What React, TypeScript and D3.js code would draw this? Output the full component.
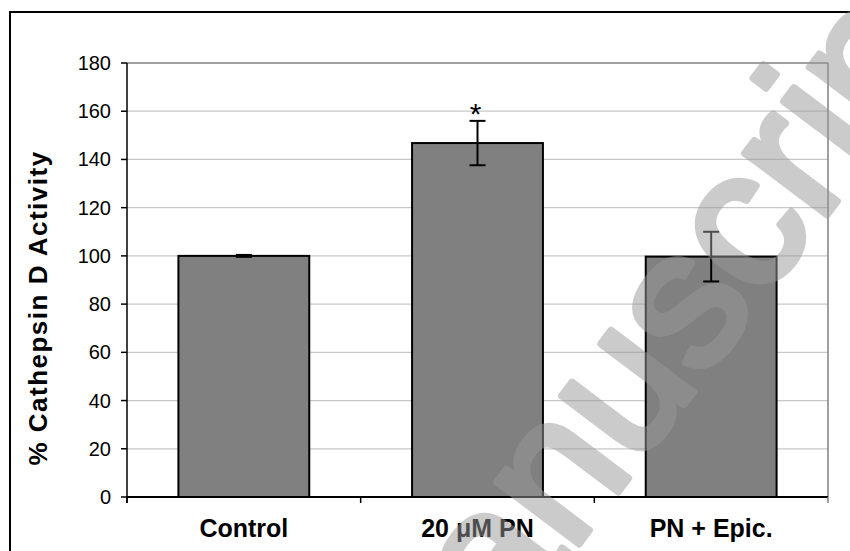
import * as d3 from 'd3';

// values (% of control)
const categories = ['Control', '20 μM PN', 'PN + Epic.'];
const activity = [100, 146.8, 99.7];
const sem = [0.4, 9.2, 10.3];
const marks = ['', '*', ''];
const yTicks = [0, 20, 40, 60, 80, 100, 120, 140, 160, 180];

const W = 850;
const H = 551;
const margin = { top: 63, right: 22, bottom: 54, left: 127 };
const font = "Arial, 'Liberation Sans', sans-serif";

export default function App() {
	const x = d3
		.scaleBand<string>()
		.domain(categories)
		.range([margin.left, W - margin.right])
		.paddingInner(0.44)
		.paddingOuter(0.22);

	const y = d3
		.scaleLinear()
		.domain([0, 180])
		.range([H - margin.bottom, margin.top]);

	const x0 = margin.left;
	const x1 = W - margin.right;
	const y0 = y(0);
	const capW = 8;

	// category boundaries for the x ticks
	const xTicks = d3.range(categories.length + 1).map((i) => x0 + (i * (x1 - x0)) / categories.length);

	return (
		<svg
			width={W}
			height={H}
			style={{ position: 'absolute', left: 0, top: 0, background: '#fff' }}
			fontFamily={font}
		>
			{/* outer frame */}
			<rect x={10} y={12} width={W + 20} height={H + 20} fill="none" stroke="#000" strokeWidth={2} />

			{/* grid */}
			{yTicks.slice(1, -1).map((t) => (
				<line key={t} x1={x0} x2={x1} y1={y(t)} y2={y(t)} stroke="#c8c8c8" strokeWidth={1.2} />
			))}
			{/* plot border top/right */}
			<line x1={x0} x2={x1} y1={y(180)} y2={y(180)} stroke="#808080" strokeWidth={1.5} />
			<line x1={x1} x2={x1} y1={y(180)} y2={y0} stroke="#808080" strokeWidth={1.5} />

			{/* bars */}
			{categories.map((c, i) => (
				<rect
					key={c}
					x={x(c)}
					y={y(activity[i])}
					width={x.bandwidth()}
					height={y0 - y(activity[i])}
					fill="#808080"
					stroke="#000"
					strokeWidth={2}
				/>
			))}

			{/* error bars */}
			{categories.map((c, i) => {
				const cx = (x(c) ?? 0) + x.bandwidth() / 2;
				const hi = y(activity[i] + sem[i]);
				const lo = y(activity[i] - sem[i]);
				return (
					<g key={c} stroke="#000" strokeWidth={2}>
						<line x1={cx} x2={cx} y1={hi} y2={lo} />
						<line x1={cx - capW} x2={cx + capW} y1={hi} y2={hi} />
						<line x1={cx - capW} x2={cx + capW} y1={lo} y2={lo} />
					</g>
				);
			})}

			{/* significance */}
			{categories.map((c, i) =>
				marks[i] ? (
					<text
						key={c}
						x={(x(c) ?? 0) + x.bandwidth() / 2 - 2}
						y={y(activity[i] + sem[i]) + 3}
						textAnchor="middle"
						fontSize={30}
					>
						{marks[i]}
					</text>
				) : null
			)}

			{/* axes */}
			<line x1={x0} x2={x0} y1={y(180)} y2={y0 + 6} stroke="#000" strokeWidth={1.5} />
			<line x1={x0} x2={x1} y1={y0} y2={y0} stroke="#000" strokeWidth={2} />
			{yTicks.map((t) => (
				<g key={t}>
					<line x1={x0 - 6} x2={x0} y1={y(t)} y2={y(t)} stroke="#000" strokeWidth={1.5} />
					<text x={x0 - 16} y={y(t)} dy="0.35em" textAnchor="end" fontSize={20}>
						{t}
					</text>
				</g>
			))}
			{xTicks.map((t, i) => (
				<line key={i} x1={t} x2={t} y1={y0} y2={y0 + 6} stroke={i === categories.length ? '#808080' : '#000'} strokeWidth={1.5} />
			))}
			{categories.map((c) => (
				<text
					key={c}
					x={(x(c) ?? 0) + x.bandwidth() / 2}
					y={y0 + 40}
					textAnchor="middle"
					fontSize={25}
					fontWeight="bold"
				>
					{c}
				</text>
			))}

			<text
				transform={`translate(47,308) rotate(-90)`}
				textAnchor="middle"
				fontSize={26}
				fontWeight="bold"
				letterSpacing={1.5}
			>
				% Cathepsin D Activity
			</text>

			{/* watermark */}
			<text
				transform="translate(408,771) rotate(-53)"
				fontSize={195}
				fill="#999"
				stroke="#999"
				strokeWidth={7}
				strokeLinejoin="round"
				opacity={0.5}
			>
				Manuscript
			</text>
		</svg>
	);
}
